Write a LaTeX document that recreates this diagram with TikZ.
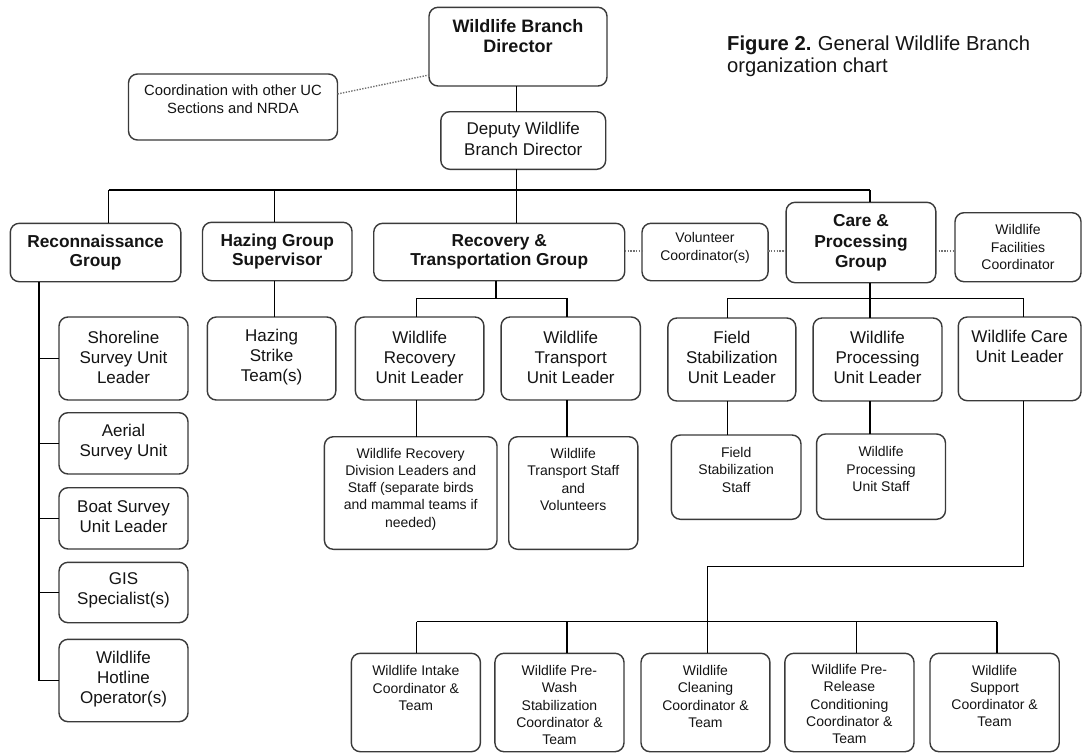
\documentclass[tikz,border=0pt]{standalone}
\usepackage{fontspec}
\setmainfont{Liberation Sans}
\definecolor{boxc}{HTML}{3A3A3A}
\definecolor{txtc}{HTML}{141414}
\tikzset{
  box/.style={draw=boxc, line width=1.4pt, rounded corners=9pt, inner sep=0pt, outer sep=0pt, fill=white},
  conn/.style={draw=black, line width=1.4pt},
  dotl/.style={draw=black!55, line width=1.4pt, dash pattern=on 1.4pt off 1.4pt},
  sm/.style={align=center, text=txtc, font=\fontsize{14}{17.3}\selectfont, inner sep=0pt},
  smc/.style={align=center, text=txtc, font=\fontsize{14.8}{17.6}\selectfont, inner sep=0pt},
  md/.style={align=center, text=txtc, font=\fontsize{17}{20}\selectfont, inner sep=0pt},
  mdd/.style={align=center, text=txtc, font=\fontsize{17}{21.5}\selectfont, inner sep=0pt},
  bd/.style={align=center, text=txtc, font=\fontsize{17.3}{19.5}\selectfont\bfseries, inner sep=0pt},
  bdd/.style={align=center, text=txtc, font=\fontsize{17.3}{20.5}\selectfont\bfseries, inner sep=0pt},
  bdir/.style={align=center, text=txtc, font=\fontsize{18}{20}\selectfont\bfseries, inner sep=0pt},
  ttl/.style={anchor=base west, text=txtc, font=\fontsize{20.2}{22}\selectfont, inner sep=0pt},
}
% #1 name, #2 x1, #3 y1, #4 x2, #5 y2, #6 text centre y, #7 text style, #8 text
\newcommand\BX[8]{%
  \node[box, minimum width={#4-#2}, minimum height={#5-#3}] (#1) at ({(#2+#4)/2},{(#3+#5)/2}) {};
  \node[#7] (#1-t) at ({(#2+#4)/2},#6) {#8};}
\begin{document}
\begin{tikzpicture}[x=1pt,y=-1pt]
\useasboundingbox[fill=white] (0,0) rectangle (1082,753);

% title
\node[ttl] (title1) at (727,50) {\textbf{Figure 2.}\hspace{-1pt} General Wildlife Branch};
\node[ttl] (title2) at (727,72) {organization chart};

% helper coordinates
\coordinate (yBus) at (0,190);
\coordinate (yRbus) at (0,298.3);
\coordinate (yDot) at (0,251);
\coordinate (yBot) at (0,621.7);
\coordinate (yTurn) at (0,566.7);
\coordinate (yCo) at (0,94);
\coordinate (yDi) at (0,75);
\coordinate (xMain) at (516.6,0);
\coordinate (xRecon) at (108.5,0);
\coordinate (xHaz) at (274.3,0);
\coordinate (xCare) at (870.1,0);
\coordinate (xCol) at (38.9,0);
\coordinate (xRdown) at (496,0);
\coordinate (xA) at (416.7,0);
\coordinate (xB) at (567,0);
\coordinate (xC) at (727.7,0);
\coordinate (xD) at (1023.5,0);
\coordinate (xE) at (707.7,0);
\coordinate (xF) at (856.3,0);
\coordinate (xG) at (997,0);

% top
\BX{dir}{429}{7.3}{607}{86}{36}{bdir}{Wildlife Branch\\Director}
\BX{coord}{128.5}{74}{337.5}{140}{99.5}{smc}{Coordination with other UC\\Sections and NRDA}
\BX{dep}{440.8}{111.7}{605.7}{169.3}{139}{mdd}{Deputy Wildlife\\Branch Director}

% groups
\BX{recon}{10.3}{223.3}{180.8}{281.7}{252.5}{bd}{Reconnaissance\\Group}
\BX{hazg}{202.5}{222.3}{352}{280.7}{251.5}{bd}{Hazing Group\\Supervisor}
\BX{recov}{373.7}{223.3}{624.7}{280.7}{252}{bd}{Recovery \&\\Transportation Group}
\BX{vol}{642}{223.3}{768.1}{280.7}{248}{sm}{Volunteer\\Coordinator(s)}
\BX{care}{786.1}{202.3}{935.8}{282.7}{243}{bdd}{Care \&\\Processing\\Group}
\BX{fac}{955}{212.7}{1081}{281.7}{247}{sm}{Wildlife\\Facilities\\Coordinator}

% unit leaders
\BX{shore}{59}{317}{188}{400}{357.3}{md}{Shoreline\\Survey Unit\\Leader}
\BX{hazs}{207.3}{317}{335.8}{400}{357.3}{md}{Hazing\\Strike\\Team(s)}
\BX{wrul}{355.4}{317}{483.9}{400}{357.3}{md}{Wildlife\\Recovery\\Unit Leader}
\BX{wtul}{501.1}{317}{640.3}{400}{357.3}{md}{Wildlife\\Transport\\Unit Leader}
\BX{fsul}{667.9}{318}{795.8}{401}{357.5}{md}{Field\\Stabilization\\Unit Leader}
\BX{wpul}{813.1}{318}{942}{401}{357.5}{md}{Wildlife\\Processing\\Unit Leader}
\BX{wcul}{958.3}{317}{1081}{400.7}{346.7}{md}{Wildlife Care\\Unit Leader}

% recon column
\BX{aer}{59}{412.7}{188}{474}{442}{md}{Aerial\\Survey Unit}
\BX{boat}{59}{487.7}{188}{549}{517}{md}{Boat Survey\\Unit Leader}
\BX{gis}{59}{562.3}{188}{622.7}{590}{md}{GIS\\Specialist(s)}
\BX{hot}{59}{639.3}{188}{721.7}{679}{md}{Wildlife\\Hotline\\Operator(s)}

% staff
\BX{wrdiv}{324.4}{436.7}{497}{549.3}{489}{sm}{Wildlife Recovery\\Division Leaders and\\Staff (separate birds\\and mammal teams if\\needed)}
\BX{wtst}{508.7}{436.7}{637.8}{549.3}{479.5}{sm}{Wildlife\\Transport Staff\\and\\Volunteers}
\BX{fss}{671.4}{435}{801}{519.3}{469.7}{sm}{Field\\Stabilization\\Staff}
\BX{wpus}{816.6}{434}{945.5}{519.3}{469}{sm}{Wildlife\\Processing\\Unit Staff}

% care teams
\BX{intake}{351.3}{653.3}{480.4}{751.7}{688}{sm}{Wildlife Intake\\Coordinator \&\\Team}
\BX{prewash}{494.9}{653.3}{624}{751.7}{705}{sm}{Wildlife Pre-\\Wash\\Stabilization\\Coordinator \&\\Team}
\BX{clean}{641}{653.3}{769.9}{751.7}{696.5}{sm}{Wildlife\\Cleaning\\Coordinator \&\\Team}
\BX{prerel}{784.8}{653.3}{914}{751.7}{704}{sm}{Wildlife Pre-\\Release\\Conditioning\\Coordinator \&\\Team}
\BX{supp}{930}{653.3}{1059.2}{751.7}{696}{sm}{Wildlife\\Support\\Coordinator \&\\Team}

% ---- connectors ----
\draw[dotl] (coord.east |- yCo) -- (dir.west |- yDi);
\draw[conn] (dir.south -| xMain) -- (dep.north -| xMain);
\draw[conn] (dep.south -| xMain) -- (yBus -| xMain);
\draw[conn] (yBus -| xRecon) -- (yBus -| xCare);
\draw[conn] (yBus -| xRecon) -- (recon.north -| xRecon);
\draw[conn] (yBus -| xHaz) -- (hazg.north -| xHaz);
\draw[conn] (yBus -| xMain) -- (recov.north -| xMain);
\draw[conn] (yBus -| xCare) -- (care.north -| xCare);

\draw[dotl] (recov.east |- yDot) -- (vol.west |- yDot);
\draw[dotl] (vol.east |- yDot) -- (care.west |- yDot);
\draw[dotl] (care.east |- yDot) -- (fac.west |- yDot);

% reconnaissance column
\draw[conn] (recon.south -| xCol) -- (hot.west -| xCol) -- (hot.west);
\draw[conn] (shore.west -| xCol) -- (shore.west);
\draw[conn] (aer.west -| xCol) -- (aer.west);
\draw[conn] (boat.west -| xCol) -- (boat.west);
\draw[conn] (gis.west -| xCol) -- (gis.west);

% hazing
\draw[conn] (hazg.south -| xHaz) -- (hazs.north -| xHaz);

% recovery
\draw[conn] (recov.south -| xRdown) -- (yRbus -| xRdown);
\draw[conn] (yRbus -| xA) -- (yRbus -| xB);
\draw[conn] (yRbus -| xA) -- (wrul.north -| xA);
\draw[conn] (yRbus -| xB) -- (wtul.north -| xB);
\draw[conn] (wrul.south -| xA) -- (wrdiv.north -| xA);
\draw[conn] (wtul.south -| xB) -- (wtst.north -| xB);

% care
\draw[conn] (care.south -| xCare) -- (yRbus -| xCare);
\draw[conn] (yRbus -| xC) -- (yRbus -| xD);
\draw[conn] (yRbus -| xC) -- (fsul.north -| xC);
\draw[conn] (yRbus -| xCare) -- (wpul.north -| xCare);
\draw[conn] (yRbus -| xD) -- (wcul.north -| xD);
\draw[conn] (fsul.south -| xC) -- (fss.north -| xC);
\draw[conn] (wpul.south -| xCare) -- (wpus.north -| xCare);
\draw[conn] (wcul.south -| xD) -- (yTurn -| xD) -- (yTurn -| xE) -- (yBot -| xE);
\draw[conn] (yBot -| xA) -- (yBot -| xG);
\draw[conn] (yBot -| xA) -- (intake.north -| xA);
\draw[conn] (yBot -| xB) -- (prewash.north -| xB);
\draw[conn] (yBot -| xE) -- (clean.north -| xE);
\draw[conn] (yBot -| xF) -- (prerel.north -| xF);
\draw[conn] (yBot -| xG) -- (supp.north -| xG);
\end{tikzpicture}
\end{document}
